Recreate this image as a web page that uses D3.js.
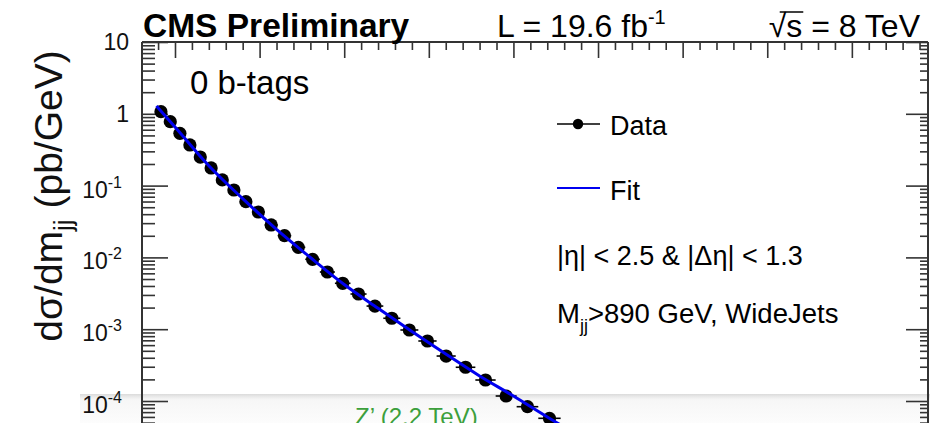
<!DOCTYPE html>
<html>
<head>
<meta charset="utf-8">
<script src="https://cdn.jsdelivr.net/npm/d3@7"></script>
<style>
  html, body { margin: 0; padding: 0; background: #ffffff; }
  svg { display: block; font-family: "Liberation Sans", Arial, Helvetica, sans-serif; }
</style>
</head>
<body>
<svg id="chart" width="930" height="423"></svg>
<script>
// ---------------- data ----------------
// dijet mass bin edges (GeV)
const massEdges = [890, 944, 1000, 1058, 1118, 1181, 1246, 1313, 1383, 1455, 1530, 1607, 1687, 1770,
  1856, 1945, 2037, 2132, 2231, 2332, 2438, 2546, 2659, 2775, 2895, 3019, 3147, 3279];
// measured dσ/dm_jj (pb/GeV) per bin
const dataValues = [1.07, 0.776, 0.535, 0.368, 0.250, 0.176, 0.120, 0.0868, 0.0597, 0.0429, 0.0283,
  0.0201, 0.01382, 0.00941, 0.00626, 0.00436, 0.00309, 0.00210, 0.00142, 0.000975, 0.000685,
  0.000423, 0.000295, 0.000196, 0.0001174, 0.0000833, 0.0000574];
// fit curve sampled at these masses
const fitMass = [890, 1000, 1200, 1400, 1600, 1800, 2000, 2200, 2400, 2600, 2800, 3000, 3200, 3400];
const fitValues = [1.284, 0.655, 0.1894, 0.0659, 0.0246, 0.00997, 0.00419, 0.001955, 0.000929,
  0.000451, 0.000223, 0.0001174, 0.0000599, 0.0000315];
// y-axis major tick values and labels
const yMajorTicks = [10, 1, 0.1, 0.01, 0.001, 0.0001];
const yTickBase = ["10", "1", "10", "10", "10", "10"];
const yTickExp = ["", "", "-1", "-2", "-3", "-4"];

// ---------------- layout ----------------
const svg = d3.select("#chart");
const padL = 142, padR = 928, padT = 42;

const x = d3.scaleLinear().domain([805, 5450]).range([padL, padR]);
const y = d3.scaleLog().domain([10, 1e-4]).range([padT, 401]);

const defs = svg.append("defs");
defs.append("clipPath").attr("id", "clip")
  .append("rect").attr("x", padL).attr("y", padT).attr("width", padR - padL).attr("height", 500);

// bottom overlay band (drawn first, as a faint background strip)
const grad = defs.append("linearGradient").attr("id", "band").attr("x1", 0).attr("x2", 0).attr("y1", 0).attr("y2", 1);
grad.append("stop").attr("offset", 0).attr("stop-color", "#bcbcbc").attr("stop-opacity", 0.55);
grad.append("stop").attr("offset", 0.2).attr("stop-color", "#e6e6e6").attr("stop-opacity", 0.35);
grad.append("stop").attr("offset", 1).attr("stop-color", "#f6f6f6").attr("stop-opacity", 0.3);
svg.append("rect").attr("x", 80).attr("y", 394).attr("width", 850).attr("height", 29)
  .attr("fill", "url(#band)");

const g = svg.append("g");

// ---------------- axes ----------------
const axisColor = "#333";
function styleAxis(sel) {
  sel.select(".domain").remove();
  sel.selectAll(".tick line").attr("stroke", axisColor).attr("stroke-width", 1.6);
  sel.selectAll(".tick text").remove();
}
const yMinor = [];
for (let e = -5; e <= 0; e++) for (let k = 2; k <= 9; k++) yMinor.push(k * Math.pow(10, e));

const xMinor = d3.range(900, 5450, 100).filter(v => v % 500 !== 0);
const xMajor = d3.range(1000, 5450, 500);

g.append("g").attr("transform", `translate(0,${padT})`)
  .call(d3.axisTop(x).tickValues(xMinor).tickSize(-8)).call(styleAxis);
g.append("g").attr("transform", `translate(0,${padT})`)
  .call(d3.axisTop(x).tickValues(xMajor).tickSize(-16)).call(styleAxis);

g.append("g").attr("transform", `translate(${padL},0)`)
  .call(d3.axisLeft(y).tickValues(yMinor).tickSize(-13)).call(styleAxis);
g.append("g").attr("transform", `translate(${padL},0)`)
  .call(d3.axisLeft(y).tickValues(yMajorTicks).tickSize(-26)).call(styleAxis);

g.append("g").attr("transform", `translate(${padR},0)`)
  .call(d3.axisRight(y).tickValues(yMinor).tickSize(-8)).call(styleAxis);
g.append("g").attr("transform", `translate(${padR},0)`)
  .call(d3.axisRight(y).tickValues(yMajorTicks).tickSize(-22)).call(styleAxis);

// frame
g.append("line").attr("x1", padL).attr("x2", padR).attr("y1", padT).attr("y2", padT)
  .attr("stroke", axisColor).attr("stroke-width", 2);
g.append("line").attr("x1", padL).attr("x2", padL).attr("y1", padT).attr("y2", 430)
  .attr("stroke", axisColor).attr("stroke-width", 2);
g.append("line").attr("x1", padR).attr("x2", padR).attr("y1", padT).attr("y2", 430)
  .attr("stroke", axisColor).attr("stroke-width", 2);

// y tick labels
yMajorTicks.forEach((v, i) => {
  const hasExp = yTickExp[i] !== "";
  const t = g.append("text")
    .attr("x", hasExp ? 122 : 129)
    .attr("y", y(v) + (hasExp ? 12 : 8))
    .attr("text-anchor", "end")
    .attr("font-size", 23)
    .attr("fill", "#111");
  t.append("tspan").text(yTickBase[i]);
  if (hasExp) t.append("tspan").attr("dy", -10).attr("font-size", 16).text(yTickExp[i]);
});

// y axis title
const yt = g.append("text")
  .attr("transform", `translate(62,196) rotate(-90)`)
  .attr("text-anchor", "middle")
  .attr("font-size", 39)
  .attr("fill", "#111");
yt.append("tspan").text("dσ/dm");
yt.append("tspan").attr("dy", 10).attr("font-size", 26).text("jj");
yt.append("tspan").attr("dy", -10).text(" (pb/GeV)");

// ---------------- plot contents ----------------
const plot = g.append("g").attr("clip-path", "url(#clip)");

const points = dataValues.map((v, i) => ({
  lo: massEdges[i], hi: massEdges[i + 1], c: (massEdges[i] + massEdges[i + 1]) / 2, v
}));

plot.selectAll("line.err").data(points).enter().append("line")
  .attr("x1", d => x(d.lo)).attr("x2", d => x(d.hi))
  .attr("y1", d => y(d.v)).attr("y2", d => y(d.v))
  .attr("stroke", "#000").attr("stroke-width", 1.6);

plot.selectAll("circle.pt").data(points).enter().append("circle")
  .attr("cx", d => x(d.c)).attr("cy", d => y(d.v)).attr("r", 6.6).attr("fill", "#000");

const fitData = fitMass.map((m, i) => ({ m, v: fitValues[i] }));
plot.append("path").datum(fitData)
  .attr("d", d3.line().x(d => x(d.m)).y(d => y(d.v)).curve(d3.curveMonotoneX))
  .attr("fill", "none").attr("stroke", "#0000f0").attr("stroke-width", 3);

// ---------------- texts ----------------
g.append("text").attr("x", 143).attr("y", 37).attr("font-size", 33.5).attr("font-weight", "bold")
  .attr("fill", "#000").text("CMS Preliminary");

const lumi = g.append("text").attr("x", 497).attr("y", 37).attr("font-size", 32).attr("fill", "#000");
lumi.append("tspan").text("L = 19.6 fb");
lumi.append("tspan").attr("dy", -13).attr("font-size", 20).text("-1");

const ener = g.append("text").attr("x", 920).attr("y", 37).attr("font-size", 32)
  .attr("text-anchor", "end").attr("fill", "#000").text("√s = 8 TeV");
{
  const node = ener.node();
  const s1 = node.getEndPositionOfChar(1);
  const r0 = node.getStartPositionOfChar(0);
  g.append("line").attr("x1", r0.x + 11).attr("x2", s1.x + 1).attr("y1", 12).attr("y2", 12)
    .attr("stroke", "#000").attr("stroke-width", 1.5);
}

g.append("text").attr("x", 190).attr("y", 94).attr("font-size", 33).attr("fill", "#000").text("0 b-tags");

// legend
g.append("line").attr("x1", 557).attr("x2", 600).attr("y1", 124).attr("y2", 124)
  .attr("stroke", "#000").attr("stroke-width", 1.6);
g.append("circle").attr("cx", 578).attr("cy", 124).attr("r", 5.2).attr("fill", "#000");
g.append("text").attr("x", 610).attr("y", 135).attr("font-size", 27).attr("fill", "#000").text("Data");

g.append("line").attr("x1", 557).attr("x2", 600).attr("y1", 188).attr("y2", 188)
  .attr("stroke", "#0000f0").attr("stroke-width", 2);
g.append("text").attr("x", 610).attr("y", 200).attr("font-size", 27).attr("fill", "#000").text("Fit");

g.append("text").attr("x", 557).attr("y", 265).attr("font-size", 27).attr("fill", "#000")
  .text("|η| < 2.5 & |Δη| < 1.3");

const mjj = g.append("text").attr("x", 557).attr("y", 323).attr("font-size", 27.5).attr("fill", "#000");
mjj.append("tspan").text("M");
mjj.append("tspan").attr("dy", 9).attr("font-size", 18).text("jj");
mjj.append("tspan").attr("dy", -9).text(">890 GeV, WideJets");

g.append("text").attr("x", 355).attr("y", 425).attr("font-size", 24).attr("fill", "#3c9f3c")
  .text("Z’ (2.2 TeV)");
</script>
</body>
</html>
